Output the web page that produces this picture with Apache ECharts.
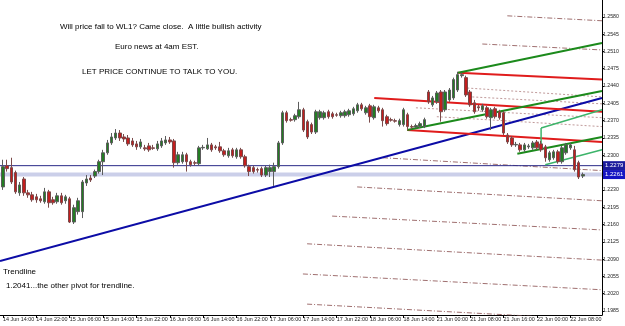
<!DOCTYPE html>
<html><head><meta charset="utf-8">
<script src="https://cdn.jsdelivr.net/npm/echarts@6/dist/echarts.min.js"></script>
<style>html,body{margin:0;padding:0;background:#fff}#c{width:625px;height:326px}</style>
</head><body><div id="c"></div>
<script>
// ---- data ----
const xLabels = ['14 Jun 14:00','14 Jun 22:00','15 Jun 06:00','15 Jun 14:00','15 Jun 22:00','16 Jun 06:00','16 Jun 14:00','16 Jun 22:00','17 Jun 06:00','17 Jun 14:00','17 Jun 22:00','18 Jun 06:00','18 Jun 14:00','21 Jun 00:00','21 Jun 08:00','21 Jun 16:00','22 Jun 00:00','22 Jun 08:00'];
const xLabelPos = [0,8,16,24,32,40,48,56,64,72,80,88,96,104,112,120,128,136];
const yTicks = [1.1985,1.2020,1.2055,1.2090,1.2125,1.2160,1.2195,1.2230,1.2300,1.2335,1.2370,1.2405,1.2440,1.2475,1.2510,1.2545,1.2580];

const open = [1.2236,1.2279,1.2275,1.2265,1.2224,1.2252,1.2224,1.2220,1.2216,1.2212,
1.2206,1.2226,1.2210,1.2206,1.2218,1.2208,1.2212,1.2165,1.2186,1.2186,
1.2244,1.2254,1.2258,1.2267,1.2287,1.2305,1.2325,1.2335,1.2345,1.2337,
1.2335,1.2329,1.2323,1.2317,1.2315,1.2319,1.2315,1.2313,1.2319,1.2325,
1.2331,1.2329,1.2285,1.2287,1.2301,1.2287,1.2285,1.2283,1.2315,1.2313,
1.2321,1.2317,1.2317,1.2309,1.2299,1.2311,1.2297,1.2311,1.2297,1.2277,
1.2275,1.2271,1.2273,1.2260,1.2267,1.2267,1.2277,1.2325,1.2386,1.2372,
1.2372,1.2378,1.2392,1.2368,1.2362,1.2347,1.2376,1.2376,1.2388,1.2384,
1.2382,1.2380,1.2380,1.2382,1.2384,1.2390,1.2402,1.2386,1.2400,1.2376,
1.2396,1.2392,1.2378,1.2372,1.2370,1.2362,1.2362,1.2382,1.2358,1.2357,
1.2358,1.2358,1.2428,1.2402,1.2408,1.2428,1.2392,1.2412,1.2416,1.2432,
1.2461,1.2457,1.2428,1.2406,1.2398,1.2392,1.2396,1.2376,1.2394,1.2388,
1.2386,1.2341,1.2335,1.2321,1.2321,1.2311,1.2317,1.2315,1.2327,1.2323,
1.2317,1.2291,1.2295,1.2307,1.2287,1.2305,1.2315,1.2311,1.2285,1.2258];
const close = [1.2277,1.2273,1.2246,1.2226,1.2240,1.2224,1.2220,1.2210,1.2210,1.2208,
1.2226,1.2204,1.2204,1.2218,1.2204,1.2216,1.2165,1.2194,1.2208,1.2246,
1.2252,1.2250,1.2267,1.2287,1.2305,1.2325,1.2337,1.2345,1.2335,1.2333,
1.2323,1.2321,1.2317,1.2327,1.2313,1.2311,1.2314,1.2323,1.2329,1.2331,
1.2327,1.2285,1.2301,1.2301,1.2287,1.2281,1.2284,1.2315,1.2316,1.2321,
1.2311,1.2315,1.2309,1.2301,1.2309,1.2299,1.2311,1.2297,1.2279,1.2267,
1.2267,1.2270,1.2260,1.2275,1.2275,1.2277,1.2325,1.2386,1.2370,1.2371,
1.2380,1.2392,1.2351,1.2337,1.2347,1.2388,1.2388,1.2386,1.2378,1.2378,
1.2381,1.2386,1.2388,1.2390,1.2394,1.2402,1.2394,1.2396,1.2378,1.2398,
1.2390,1.2370,1.2364,1.2371,1.2369,1.2370,1.2392,1.2358,1.2357,1.2360,
1.2364,1.2372,1.2408,1.2416,1.2426,1.2388,1.2428,1.2432,1.2453,1.2463,
1.2463,1.2422,1.2402,1.2388,1.2396,1.2400,1.2378,1.2392,1.2378,1.2376,
1.2345,1.2327,1.2321,1.2322,1.2311,1.2321,1.2319,1.2325,1.2315,1.2311,
1.2295,1.2305,1.2307,1.2287,1.2315,1.2321,1.2321,1.2271,1.2256,1.2261];
const low = [1.2230,1.2267,1.2242,1.2222,1.2218,1.2218,1.2214,1.2206,1.2204,1.2204,
1.2202,1.2194,1.2200,1.2202,1.2200,1.2202,1.2163,1.2161,1.2180,1.2173,
1.2238,1.2246,1.2254,1.2263,1.2260,1.2301,1.2321,1.2331,1.2329,1.2327,
1.2319,1.2317,1.2311,1.2313,1.2309,1.2307,1.2311,1.2309,1.2315,1.2321,
1.2323,1.2275,1.2281,1.2283,1.2267,1.2277,1.2279,1.2279,1.2311,1.2311,
1.2307,1.2311,1.2305,1.2297,1.2295,1.2295,1.2293,1.2293,1.2275,1.2258,
1.2263,1.2265,1.2256,1.2256,1.2256,1.2238,1.2273,1.2321,1.2366,1.2368,
1.2368,1.2374,1.2347,1.2333,1.2343,1.2343,1.2372,1.2372,1.2374,1.2374,
1.2378,1.2376,1.2376,1.2378,1.2380,1.2386,1.2390,1.2382,1.2366,1.2372,
1.2386,1.2358,1.2360,1.2368,1.2366,1.2358,1.2358,1.2351,1.2353,1.2355,
1.2355,1.2355,1.2404,1.2398,1.2404,1.2368,1.2388,1.2408,1.2412,1.2428,
1.2457,1.2418,1.2398,1.2384,1.2390,1.2388,1.2374,1.2351,1.2374,1.2372,
1.2341,1.2323,1.2317,1.2317,1.2307,1.2307,1.2313,1.2311,1.2311,1.2307,
1.2287,1.2287,1.2291,1.2283,1.2283,1.2301,1.2311,1.2267,1.2252,1.2254];
const high = [1.2291,1.2291,1.2295,1.2269,1.2246,1.2256,1.2230,1.2226,1.2222,1.2218,
1.2234,1.2230,1.2216,1.2224,1.2224,1.2220,1.2216,1.2200,1.2214,1.2250,
1.2260,1.2260,1.2271,1.2291,1.2311,1.2331,1.2345,1.2353,1.2351,1.2343,
1.2341,1.2335,1.2329,1.2333,1.2321,1.2325,1.2321,1.2329,1.2335,1.2339,
1.2337,1.2333,1.2307,1.2307,1.2305,1.2291,1.2289,1.2319,1.2321,1.2335,
1.2325,1.2321,1.2327,1.2313,1.2315,1.2315,1.2315,1.2315,1.2301,1.2281,
1.2279,1.2275,1.2277,1.2279,1.2281,1.2285,1.2329,1.2390,1.2390,1.2376,
1.2384,1.2408,1.2396,1.2372,1.2366,1.2392,1.2392,1.2390,1.2392,1.2388,
1.2386,1.2390,1.2392,1.2394,1.2398,1.2406,1.2406,1.2400,1.2404,1.2402,
1.2400,1.2396,1.2382,1.2376,1.2374,1.2374,1.2396,1.2386,1.2362,1.2364,
1.2368,1.2376,1.2432,1.2420,1.2430,1.2432,1.2432,1.2436,1.2457,1.2469,
1.2467,1.2461,1.2432,1.2412,1.2402,1.2404,1.2400,1.2396,1.2398,1.2392,
1.2390,1.2345,1.2339,1.2327,1.2325,1.2325,1.2323,1.2329,1.2331,1.2329,
1.2321,1.2309,1.2311,1.2311,1.2319,1.2325,1.2325,1.2319,1.2289,1.2265];

// drawn objects (bar index, price)
const blueTrend = [[-0.72,1.2086],[143.6,1.2416]];
const redLines = [
  [[109.1,1.2467],[143.6,1.2453]],
  [[89.0,1.2416],[143.6,1.2388]],
  [[96.9,1.2351],[143.6,1.2327]]
];
const greenLines = [
  [[109.1,1.2467],[143.6,1.2527]],
  [[96.9,1.2351],[143.6,1.2430]],
  [[123.3,1.2303],[143.6,1.2337]]
];
const lightGreenLines = [
  [[129.0,1.2311],[129.0,1.2355]],
  [[129.0,1.2355],[143.6,1.2392]],
  [[130.0,1.2281],[143.6,1.2311]]
];
const dashLines = [
  [[120.9,1.2582],[143.6,1.2572]],
  [[114.9,1.2525],[143.6,1.2513]],
  [[91.1,1.2295],[143.6,1.2269]],
  [[84.9,1.2236],[143.6,1.2208]],
  [[78.9,1.2177],[143.6,1.2149]],
  [[72.9,1.2121],[143.6,1.2088]],
  [[71.9,1.2060],[143.6,1.2028]],
  [[72.9,1.1999],[143.6,1.1967]]
];
const dotLines = [
  [[111.3,1.2436],[143.6,1.2418]],
  [[112.5,1.2418],[143.6,1.2404]],
  [[99.0,1.2396],[143.6,1.2376]],
  [[104.0,1.2378],[143.6,1.2358]]
];
const levelLine = 1.2279;
const bidLine = 1.2261;

// ---- chart ----
const xMin = -0.72, xMax = 143.6;
const candleData = open.map((o, i) => [i, o, close[i], low[i], high[i]]);
const smallFont = "'Liberation Sans',Arial,sans-serif";
function seg(d, color, width, type, z) {
  return {type:'line', data:d, symbol:'none', silent:true, animation:false, z:z||3,
    lineStyle:{color:color, width:width, type:type||'solid'}};
}
function hline(v, color, width, boxColor, z) {
  const s = seg([[xMin, v],[xMax, v]], color, width, 'solid', z);
  s.endLabel = {show:true, distance:1, formatter:v.toFixed(4), color:'#fff', backgroundColor:boxColor,
    padding:[2,2,1,2], fontSize:6, fontFamily:smallFont};
  return s;
}
const series = [];
dashLines.forEach(d => series.push(seg(d,'#a07070',1,[5,2,1,2],2)));
dotLines.forEach(d => series.push(seg(d,'#c09a9a',1,[2,2],2)));
series.push(hline(bidLine,'#cbcfe9',4,'#1414c4',2));
series.push(hline(levelLine,'#2a2a88',1,'#1c1c9c',2));
series.push(seg(blueTrend,'#0c0ca6',2));
redLines.forEach(d => series.push(seg(d,'#e01c1c',2)));
greenLines.forEach(d => series.push(seg(d,'#1c8a1c',2)));
lightGreenLines.forEach(d => series.push(seg(d,'#3cb46a',1.5)));
series.push({
  type:'candlestick', data:candleData, encode:{x:0, y:[1,2,3,4]}, barWidth:3, z:4,
  animation:false,
  itemStyle:{color:'#237d23', color0:'#c41e1e', borderColor:'#5c5c5c', borderColor0:'#7a4a4a', borderWidth:1}
});

const chart = echarts.init(document.getElementById('c'), null, {renderer:'canvas'});
chart.setOption({
  animation:false,
  backgroundColor:'#ffffff',
  grid:{left:0, top:0, right:23, bottom:11, containLabel:false},
  xAxis:{
    type:'value', min:xMin, max:xMax,
    splitLine:{show:false},
    axisLine:{show:true, onZero:false, lineStyle:{color:'#000', width:1}},
    axisTick:{show:true, customValues:xLabelPos, length:3, lineStyle:{color:'#000'}},
    axisLabel:{show:true, customValues:xLabelPos, showMinLabel:true, showMaxLabel:true, hideOverlap:false,
      margin:2, align:'left', fontSize:5.4, fontFamily:smallFont, color:'#222',
      formatter:v => { const k = xLabelPos.indexOf(Math.round(v)); return k >= 0 ? xLabels[k] : ''; }}
  },
  yAxis:{
    type:'value', position:'right', min:1.1977, max:1.2614,
    splitLine:{show:false},
    axisLine:{show:true, onZero:false, lineStyle:{color:'#000', width:1}},
    axisTick:{show:true, customValues:yTicks, length:2, lineStyle:{color:'#000'}},
    axisLabel:{show:true, customValues:yTicks, margin:1, fontSize:5.2, fontFamily:smallFont, color:'#222',
      formatter:v => v.toFixed(4)}
  },
  graphic:[
    {type:'text', left:60, top:22.5, style:{text:'Will price fall to WL1? Came close.  A little bullish activity', font:"8px 'Liberation Sans'", fill:'#000'}},
    {type:'text', left:115, top:42.5, style:{text:'Euro news at 4am EST.', font:"8px 'Liberation Sans'", fill:'#000'}},
    {type:'text', left:82, top:67.5, style:{text:'LET PRICE CONTINUE TO TALK TO YOU.', font:"8px 'Liberation Sans'", fill:'#000'}},
    {type:'text', left:3, top:267.5, style:{text:'Trendline', font:"8px 'Liberation Sans'", fill:'#000'}},
    {type:'text', left:6, top:281.5, style:{text:'1.2041...the other pivot for trendline.', font:"8px 'Liberation Sans'", fill:'#000'}}
  ],
  series:series
});
</script>
</body></html>
